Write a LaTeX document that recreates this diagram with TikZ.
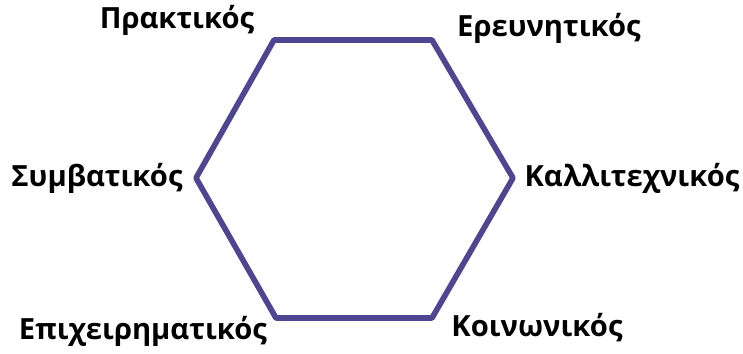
\documentclass[tikz,border=0pt]{standalone}
\usepackage{fontspec}
\setmainfont{Open Sans}
\definecolor{hexblue}{RGB}{78, 70, 145}
\usetikzlibrary{positioning}

\begin{document}
\begin{tikzpicture}[
  trait/.style={anchor=base, font=\fontsize{16.6}{19}\selectfont\bfseries, inner sep=0pt}
]
  \useasboundingbox (0, 0) rectangle (14.86, 7.08);

  % hexagon corners
  \coordinate (tl) at (5.48, 6.28);
  \coordinate (tr) at (8.64, 6.28);
  \coordinate (r)  at (10.26, 3.52);
  \coordinate (br) at (8.64, 0.72);
  \coordinate (bl) at (5.52, 0.72);
  \coordinate (l)  at (3.92, 3.52);
  \draw[hexblue, line width=3.2pt, line join=round] (tl) -- (tr) -- (r) -- (br) -- (bl) -- (l) -- cycle;

  \node[trait] (praktikos) at (3.54, 6.50) {Πρακτικός};
  \node[trait] (erevnitikos) at (10.98, 6.34) {Ερευνητικός};
  \node[trait] (symvatikos) at (1.94, 3.34) {Συμβατικός};
  \node[trait] (kallitexnikos) at (12.64, 3.34) {Καλλιτεχνικός};
  \node[trait] (epixeirimatikos) at (2.86, 0.28) {Επιχειρηματικός};
  \node[trait] (koinonikos) at (10.74, 0.34) {Κοινωνικός};
\end{tikzpicture}
\end{document}
